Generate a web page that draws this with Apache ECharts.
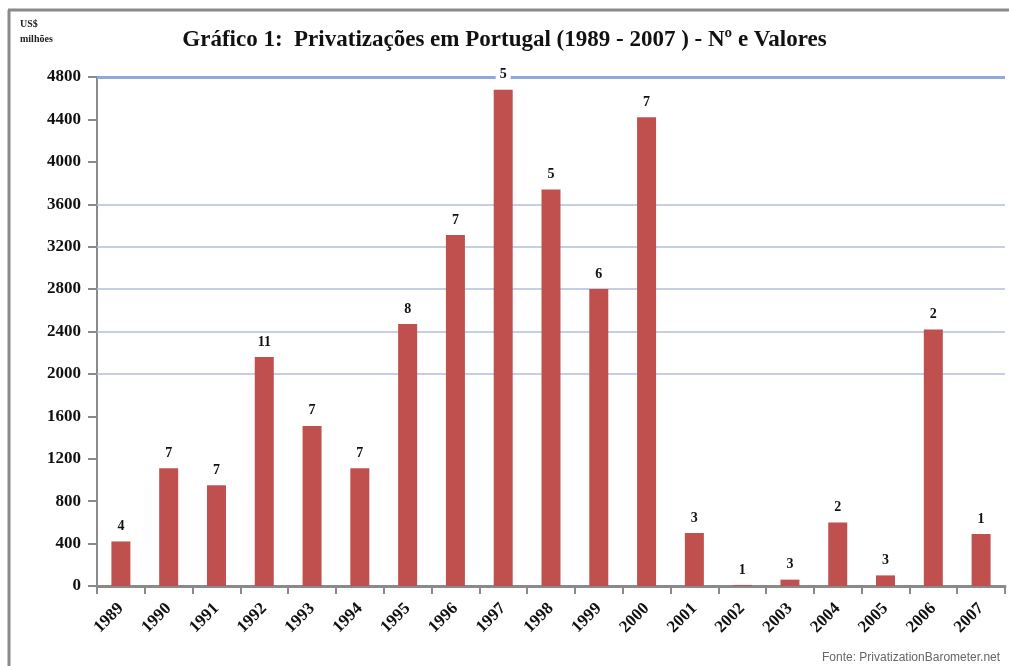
<!DOCTYPE html>
<html>
<head>
<meta charset="utf-8">
<script src="https://cdn.jsdelivr.net/npm/echarts@6/dist/echarts.min.js"></script>
<style>
    html, body { margin: 0; padding: 0; background: #fff; }
    #chart { width: 1009px; height: 666px; }
</style>
</head>
<body>
<div id="chart"></div>
<script>
    // anos e valores (US$ milhões)
    const years = ['1989', '1990', '1991', '1992', '1993', '1994', '1995', '1996', '1997', '1998',
        '1999', '2000', '2001', '2002', '2003', '2004', '2005', '2006', '2007'];
    const values = [420, 1110, 950, 2160, 1510, 1110, 2470, 3310, 4680, 3740,
        2800, 4420, 500, 10, 60, 600, 100, 2420, 490];
    // número de privatizações por ano
    const counts = [4, 7, 7, 11, 7, 7, 8, 7, 5, 5, 6, 7, 3, 1, 3, 2, 3, 2, 1];
    const gridLines = [2000, 2400, 2800, 3200, 3600];
    const topLine = 4800;

    const font = '"Liberation Serif", "DejaVu Serif", serif';

    const chart = echarts.init(document.getElementById('chart'));

    const option = {
        animation: false,
        backgroundColor: '#fff',
        title: {
            text: 'Gráfico 1:  Privatizações em Portugal (1989 - 2007 ) - Nº e Valores',
            left: 'center',
            top: 24,
            textStyle: {
                fontFamily: font,
                fontWeight: 'bold',
                fontSize: 23,
                color: '#111'
            }
        },
        graphic: [
            {
                type: 'line',
                shape: {x1: 9, y1: 10, x2: 9, y2: 666},
                style: {stroke: '#8a8a8a', lineWidth: 3}
            },
            {
                type: 'line',
                shape: {x1: 8, y1: 10, x2: 1009, y2: 10},
                style: {stroke: '#8a8a8a', lineWidth: 3}
            },
            {
                type: 'text',
                left: 20,
                top: 17,
                style: {
                    text: 'US$\nmilhões',
                    fontFamily: font,
                    fontWeight: 'bold',
                    fontSize: 10,
                    lineHeight: 15,
                    fill: '#222'
                }
            },
            {
                type: 'text',
                left: 822,
                top: 652,
                style: {
                    text: 'Fonte: PrivatizationBarometer.net',
                    fontFamily: 'Liberation Sans, sans-serif',
                    fontSize: 12,
                    fill: '#666'
                }
            }
        ],
        grid: {
            left: 97,
            right: 4,
            top: 77,
            bottom: 80
        },
        xAxis: {
            type: 'category',
            data: years,
            axisLine: {lineStyle: {color: '#8a8a8a', width: 3}},
            axisTick: {show: true, length: 8, lineStyle: {color: '#8a8a8a', width: 2}},
            axisLabel: {
                rotate: 45,
                margin: 20,
                interval: 0,
                fontFamily: font,
                fontWeight: 'bold',
                fontSize: 17,
                color: '#111'
            }
        },
        yAxis: {
            type: 'value',
            min: 0,
            max: 4800,
            interval: 400,
            axisLine: {show: true, lineStyle: {color: '#8a8a8a', width: 2}},
            axisTick: {show: true, length: 9, lineStyle: {color: '#8a8a8a', width: 2}},
            axisLabel: {
                margin: 16,
                formatter: v => String(v),
                fontFamily: font,
                fontWeight: 'bold',
                fontSize: 17,
                color: '#111'
            },
            splitLine: {show: false}
        },
        series: [{
            name: 'Valores',
            type: 'bar',
            data: values,
            barWidth: 19,
            itemStyle: {color: '#c0504d'},
            label: {
                show: true,
                position: 'top',
                distance: 8,
                formatter: function (p) {
                    return counts[p.dataIndex]
                },
                fontFamily: font,
                fontWeight: 'bold',
                fontSize: 14,
                color: '#111',
                backgroundColor: '#fff',
                padding: [0, 4]
            },
            markLine: {
                silent: true,
                symbol: 'none',
                z: 1,
                label: {show: false},
                data: gridLines.map(v => ({
                    yAxis: v,
                    lineStyle: {color: '#b4bcd8', width: 1.5, type: 'solid'}
                })).concat([{
                    yAxis: topLine,
                    lineStyle: {color: '#8eaadb', width: 3, type: 'solid'}
                }])
            }
        }]
    };

    chart.setOption(option);
</script>
</body>
</html>
